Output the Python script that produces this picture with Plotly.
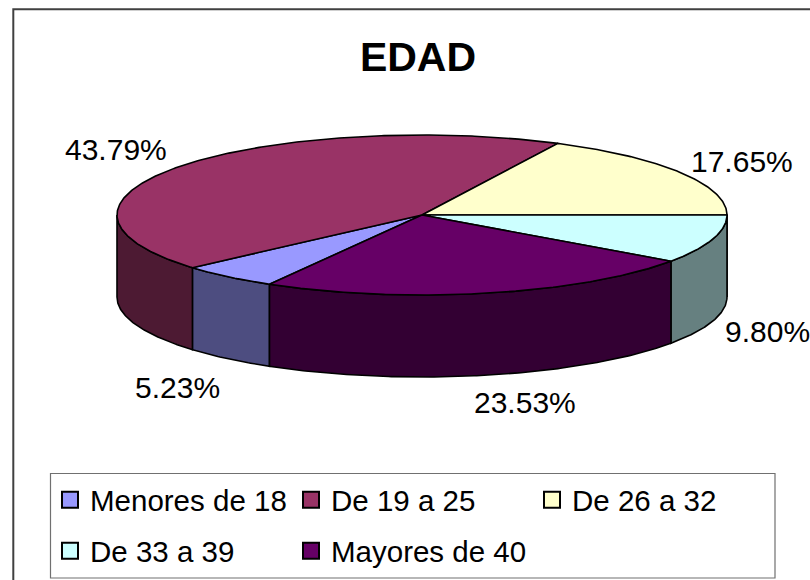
import numpy as np
import plotly.graph_objects as go

# Data
categories = ["Menores de 18", "De 19 a 25", "De 26 a 32", "De 33 a 39", "Mayores de 40"]
values = [5.23, 43.79, 17.65, 9.80, 23.53]
top_colors = ["#9999FF", "#993366", "#FFFFCC", "#CCFFFF", "#660066"]
side_colors = ["#4D4D80", "#4D1A33", "#808066", "#668080", "#330033"]
title_text = "EDAD"

# Pie geometry (pixel-like axis space)
CX, CY, RX, RY, DEPTH = 422, 215, 305, 80, 82
FIRST_ANGLE = 120.0  # degrees clockwise from east on the tilted circle
LINE = dict(color="#000000", width=1.6)
label_xy = [(177, 387), (116, 149), (742, 161), (767, 331), (525, 402)]

total = sum(values)
sweeps = [v / total * 360 for v in values]
starts = FIRST_ANGLE + np.cumsum([0] + sweeps[:-1])


def rim(a0, a1, dy=0.0):
    t = np.radians(np.linspace(a0, a1, max(int(abs(a1 - a0) * 2), 2)))
    return CX + RX * np.cos(t), CY + dy + RY * np.sin(t)


fig = go.Figure()

# Side walls: only the front half (0..180 deg clockwise from east) can be seen
for name, s, w, col in zip(categories, starts, sweeps, side_colors):
    for offset in (0, 360, -360):
        a0, a1 = max(s + offset, 0), min(s + w + offset, 180)
        if a1 > a0:
            xt, yt = rim(a0, a1)
            xb, yb = rim(a1, a0, DEPTH)
            fig.add_trace(go.Scatter(
                x=np.r_[xt, xb, xt[0]], y=np.r_[yt, yb, yt[0]],
                mode="lines", fill="toself", fillcolor=col, line=LINE,
                showlegend=False, hoverinfo="skip", name=name))

# Top faces
for name, s, w, col in zip(categories, starts, sweeps, top_colors):
    xr, yr = rim(s, s + w)
    fig.add_trace(go.Scatter(
        x=np.r_[CX, xr, CX], y=np.r_[CY, yr, CY],
        mode="lines", fill="toself", fillcolor=col, line=LINE,
        showlegend=False, hoverinfo="text", text=f"{name}: {w / 3.6:.2f}%", name=name))

# Legend entries (two rows, each its own legend, to get the wide row pitch)
for i, (name, col) in enumerate(zip(categories, top_colors)):
    fig.add_trace(go.Scatter(
        x=[None], y=[None], mode="markers", name=name,
        marker=dict(symbol="square", size=16, color=col, line=dict(color="#000000", width=2)),
        legend="legend" if i < 3 else "legend2", showlegend=True))

# Value labels
for v, (lx, ly) in zip(values, label_xy):
    fig.add_annotation(x=lx, y=ly, text=f"{v:.2f}%", showarrow=False, xanchor="center", yanchor="middle",
                       font=dict(family="Liberation Sans", size=30, color="#000000"))

legend_common = dict(orientation="h", entrywidth=196, entrywidthmode="pixels", xanchor="left", yanchor="middle",
                     x=50 / 810, bgcolor="rgba(0,0,0,0)", borderwidth=0, traceorder="normal", itemclick=False,
                     itemdoubleclick=False, font=dict(family="Liberation Sans", size=29.5, color="#000000"))

fig.update_layout(
    width=810, height=580, margin=dict(l=0, r=0, t=0, b=0),
    paper_bgcolor="#FFFFFF", plot_bgcolor="#FFFFFF", hovermode="closest",
    title=dict(text=f"<b>{title_text}</b>", x=418 / 810, y=1 - 57 / 580, xanchor="center", yanchor="middle",
               font=dict(family="Liberation Sans", size=41, color="#000000")),
    xaxis=dict(range=[0, 810], visible=False, fixedrange=True),
    yaxis=dict(range=[580, 0], visible=False, fixedrange=True),
    legend=dict(y=1 - 500 / 580, **legend_common),
    legend2=dict(y=1 - 551 / 580, **legend_common),
    shapes=[
        dict(type="rect", xref="x", yref="y", x0=13.3, y0=9.3, x1=830, y1=600,
             line=dict(color="#404040", width=2), layer="below"),
        dict(type="rect", xref="x", yref="y", x0=50.5, y0=473.5, x1=775, y1=578,
             line=dict(color="#707070", width=1.2), fillcolor="#FFFFFF", layer="below"),
    ],
)

fig.write_html("out.html", config={"displayModeBar": False},
               post_script="document.body.style.margin='0';")
